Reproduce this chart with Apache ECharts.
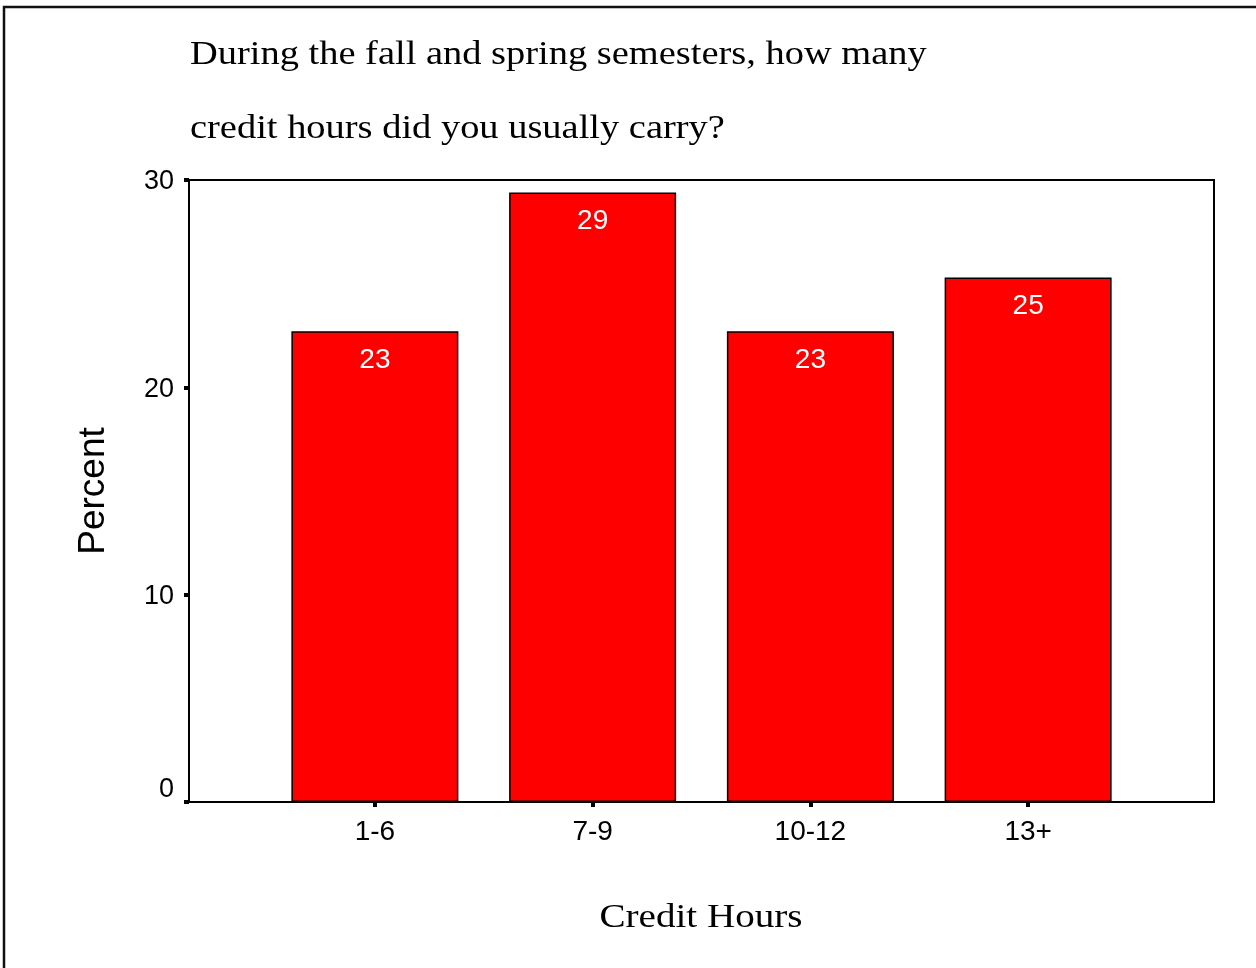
<!DOCTYPE html>
<html>
<head>
<meta charset="utf-8">
<script src="https://cdn.jsdelivr.net/npm/echarts@6/dist/echarts.min.js"></script>
<style>html,body{margin:0;padding:0;background:#fff;}#c{width:1256px;height:968px;}</style>
</head>
<body>
<div id="c"></div>
<script>
const categories = ['1-6', '7-9', '10-12', '13+'];
const percents = [22.7, 29.4, 22.7, 25.3];
const barLabels = [23, 29, 23, 25];
const yTicks = [0, 10, 20, 30];
const titleLines = ['During the fall and spring semesters, how many', 'credit hours did you usually carry?'];
const xName = 'Credit Hours';
const yName = 'Percent';

const chart = echarts.init(document.getElementById('c'), null, {renderer: 'canvas'});
const serif = '"Liberation Serif", "DejaVu Serif", serif';
const sans = '"Liberation Sans", Arial, sans-serif';

const option = {
  backgroundColor: '#fff',
  animation: false,
  graphic: [
    {type: 'rect', shape: {x: 4, y: 7, width: 1400, height: 1100}, style: {fill: 'none', stroke: '#111', lineWidth: 2.5}, z: 0},
    {type: 'text', x: 190, y: 55, scaleX: 1.165, style: {text: titleLines[0], font: '33px ' + serif, fill: '#000', textVerticalAlign: 'middle'}},
    {type: 'text', x: 190, y: 129, scaleX: 1.165, style: {text: titleLines[1], font: '33px ' + serif, fill: '#000', textVerticalAlign: 'middle'}},
    {type: 'text', x: 701, y: 918, scaleX: 1.15, style: {text: xName, font: '34px ' + serif, fill: '#000', textAlign: 'center', textVerticalAlign: 'middle'}}
  ],
  grid: [
    {left: 189, top: 180, width: 1025, height: 622, show: true, borderColor: '#000', borderWidth: 2, backgroundColor: 'transparent'},
    {left: 266, top: 180, width: 871, height: 622}
  ],
  xAxis: [
    {gridIndex: 0, type: 'value', show: false, min: 0, max: 1},
    {gridIndex: 1, type: 'category', data: categories,
     axisLine: {show: false},
     axisTick: {show: true, alignWithLabel: true, length: 5, lineStyle: {color: '#000', width: 4}},
     axisLabel: {color: '#000', fontSize: 28, fontFamily: sans, margin: 16}}
  ],
  yAxis: [
    {gridIndex: 0, type: 'value', min: 0, max: 30, interval: 10,
     splitLine: {show: false},
     axisLine: {show: true, lineStyle: {color: '#000', width: 2}},
     axisTick: {show: true, length: 5, lineStyle: {color: '#000', width: 4}},
     axisLabel: {color: '#000', fontSize: 27, fontFamily: sans, margin: 15,
       formatter: v => v === 0 ? '{z|0}' : '{n|' + v + '}',
       rich: {
         z: {fontSize: 27, fontFamily: sans, color: '#000', padding: [0, 0, 24, 0]},
         n: {fontSize: 27, fontFamily: sans, color: '#000', padding: [4, 0, 0, 0]}
       }},
     name: yName, nameLocation: 'middle', nameRotate: 90, nameGap: 77,
     nameTextStyle: {fontFamily: sans, fontSize: 37, color: '#000'}},
    {gridIndex: 1, type: 'value', min: 0, max: 30, show: false, splitLine: {show: false}}
  ],
  series: [{
    type: 'bar',
    xAxisIndex: 1, yAxisIndex: 1,
    data: percents,
    barWidth: 167,
    itemStyle: {color: '#ff0000', borderColor: '#000', borderWidth: 1.5},
    label: {show: true, position: 'insideTop', distance: 15, color: '#fff', fontSize: 28, fontFamily: sans,
      formatter: p => String(barLabels[p.dataIndex])}
  }]
};
chart.setOption(option);
</script>
</body>
</html>
